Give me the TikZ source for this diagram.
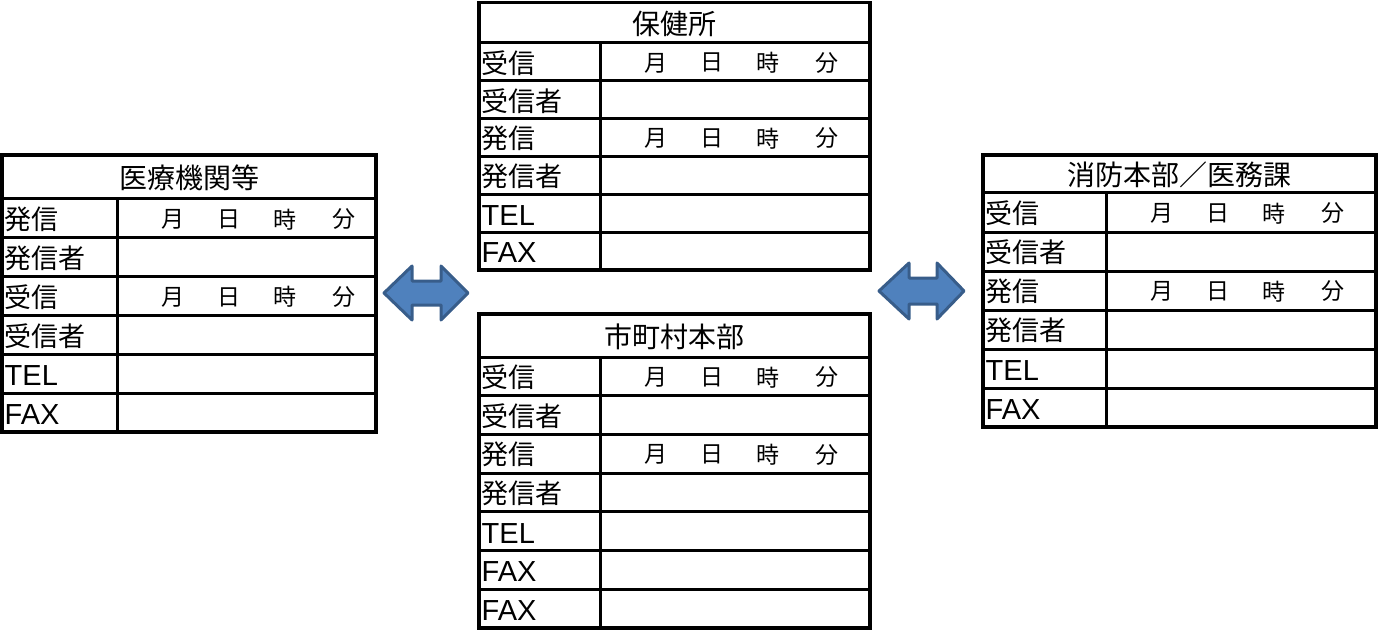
\documentclass[tikz,border=0pt]{standalone}
\usepackage{fontspec}
\setmainfont{Noto Sans CJK JP}
\newfontfamily\latinfont{Liberation Sans}
\begin{document}
\begin{tikzpicture}[x=1pt,y=-1pt,
  frame/.style={line width=3.6pt},
  inner/.style={line width=3pt},
  ttl/.style={inner sep=0pt,font=\fontsize{28}{28}\selectfont},
  lab/.style={inner sep=0pt,anchor=west,font=\fontsize{27}{27}\selectfont},
  latlab/.style={inner sep=0pt,anchor=west,font=\latinfont\fontsize{29}{29}\selectfont},
  dt/.style={inner sep=0pt,font=\fontsize{23}{23}\selectfont},
  blockarrow/.style={fill=arrowfill,draw=arrowline,line width=3pt,line join=round}]
\definecolor{arrowfill}{HTML}{4F81BD}
\definecolor{arrowline}{HTML}{385D8A}
\useasboundingbox (0,0) rectangle (1378,631);
% #1 name, #2 x0, #3 x1, #4 xdiv, #5 ytop, #6 ytitle, #7 row height, #8 title, #9 rows (label/kind: 1 date row, 0 plain, 2 latin)
\newcommand{\commtable}[9]{%
  \node[ttl] (#1-title) at ({(#2+#3)/2},{(#5+#6)/2+1}) {#8};
  \foreach \lab/\kind [count=\i] in {#9}{%
    \pgfmathsetmacro{\ya}{#6+(\i-1)*#7}
    \pgfmathsetmacro{\yb}{#6+\i*#7}
    \draw[inner] (#2,\ya) -- (#3,\ya);
    \draw[inner] (#4,\ya) -- (#4,\yb);
    \ifnum\kind=2
      \node[latlab] (#1-r\i) at (#2+2.5,{(\ya+\yb)/2+2}) {\lab};
    \else
      \node[lab] (#1-r\i) at (#2+2.5,{(\ya+\yb)/2+1}) {\lab};
    \fi
    \ifnum\kind=1
      \node[dt] (#1-m\i) at (#4+56,{(\ya+\yb)/2+1}) {月};
      \node[dt] (#1-d\i) at (#4+112,{(\ya+\yb)/2+1}) {日};
      \node[dt] (#1-h\i) at (#4+168,{(\ya+\yb)/2+1}) {時};
      \node[dt] (#1-n\i) at (#4+227,{(\ya+\yb)/2+1}) {分};
    \fi
  }
}
% left table
\commtable{med}{2}{376}{117}{155}{199}{38.8}{医療機関等}{発信/1,発信者/0,受信/1,受信者/0,TEL/2,FAX/2}
\draw[frame] (2,155) rectangle (376,431.8);
% top centre
\commtable{hc}{479}{870}{600}{2.5}{43}{37.8}{保健所}{受信/1,受信者/0,発信/1,発信者/0,TEL/2,FAX/2}
\draw[frame] (479,2.5) rectangle (870,269.8);
% bottom centre
\commtable{mun}{479}{870}{600}{314}{357}{38.7}{市町村本部}{受信/1,受信者/0,発信/1,発信者/0,TEL/2,FAX/2,FAX/2}
\draw[frame] (479,314) rectangle (870,628);
% right table
\commtable{fd}{983}{1376}{1106}{155}{193}{39}{消防本部／医務課}{受信/1,受信者/0,発信/1,発信者/0,TEL/2,FAX/2}
\draw[frame] (983,155) rectangle (1376,427);
% block arrows
\draw[blockarrow] (384,293) -- (412,266) -- (412,281) -- (441,281) -- (441,266) -- (468,293)
  -- (441,320) -- (441,305) -- (412,305) -- (412,320) -- cycle;
\draw[blockarrow] (879,291) -- (909,263) -- (909,278) -- (937,278) -- (937,263) -- (964,291)
  -- (937,319) -- (937,304) -- (909,304) -- (909,319) -- cycle;
\end{tikzpicture}
\end{document}
